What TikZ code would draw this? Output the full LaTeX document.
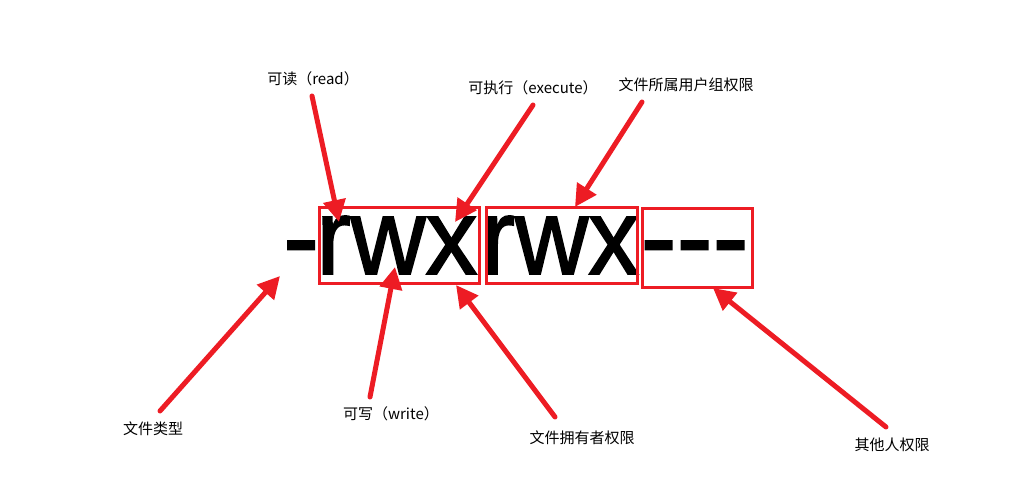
\documentclass[tikz,border=0pt]{standalone}
\usepackage{fontspec}
\newfontfamily\cjk{Noto Sans CJK SC}
\newfontfamily\permfont[FakeBold=1.6]{Liberation Sans}
\usetikzlibrary{arrows.meta}
\definecolor{markred}{HTML}{ED1C24}

\begin{document}
\begin{tikzpicture}[
  x=1pt, y=-1pt,
  pointer/.style={-{Triangle[length=22pt, width=22pt]}, draw=markred, line width=5pt, line cap=round},
  permbox/.style={draw=markred, line width=3pt, inner sep=0pt},
  perm/.style={font=\permfont\fontsize{108}{108}\selectfont, inner sep=0pt, anchor=base west},
  tag/.style={font=\cjk\fontsize{15}{17}\selectfont, inner sep=1pt},
]
\useasboundingbox (0,0) rectangle (1035,482);

% 权限字符串 -rwxrwx---
\node[perm] (type)  at (283,274) {-};
\node[perm] (own)   at (316,274) {\scalebox{0.96}[1]{rwx}};
\node[perm] (grp)   at (481,274) {\scalebox{0.94}[1]{rwx}};
\node[perm] (other) at (640.5,274) {---};

% 三组权限的红框
\node[permbox, minimum width=160pt, minimum height=76pt] (ownbox)   at (399,245) {};
\node[permbox, minimum width=151pt, minimum height=76pt] (grpbox)   at (561.5,245) {};
\node[permbox, minimum width=110pt, minimum height=79pt] (otherbox) at (697,247.5) {};

% 说明文字
\node[tag] (read)    at (313,79)  {可读（read）};
\node[tag] (exec)    at (533,88)  {可执行（execute）};
\node[tag] (grpname) at (686,85)  {文件所属用户组权限};
\node[tag] (typename) at (153,429) {文件类型};
\node[tag] (write)   at (391,414) {可写（write）};
\node[tag] (ownname) at (582,438) {文件拥有者权限};
\node[tag] (othername) at (892,445) {其他人权限};

% 箭头起点（文字旁）
\coordinate (readtail)  at (312,96);
\coordinate (exectail)  at (533,105);
\coordinate (grptail)   at (642,102);
\coordinate (typetail)  at (160,411);
\coordinate (writetail) at (370,397);
\coordinate (owntail)   at (555,417);
\coordinate (othertail) at (886,427);

% 箭头终点（字符串上）
\coordinate (readtip)  at (339,222);
\coordinate (exectip)  at (455,222);
\coordinate (grptip)   at (575,207);
\coordinate (typetip)  at (280,276);
\coordinate (writetip) at (395,267);
\coordinate (owntip)   at (456,285);
\coordinate (othertip) at (713,288);

\draw[pointer] (readtail)  -- (readtip);
\draw[pointer] (exectail)  -- (exectip);
\draw[pointer] (grptail)   -- (grptip);
\draw[pointer] (typetail)  -- (typetip);
\draw[pointer] (writetail) -- (writetip);
\draw[pointer] (owntail)   -- (owntip);
\draw[pointer] (othertail) -- (othertip);

\end{tikzpicture}
\end{document}
